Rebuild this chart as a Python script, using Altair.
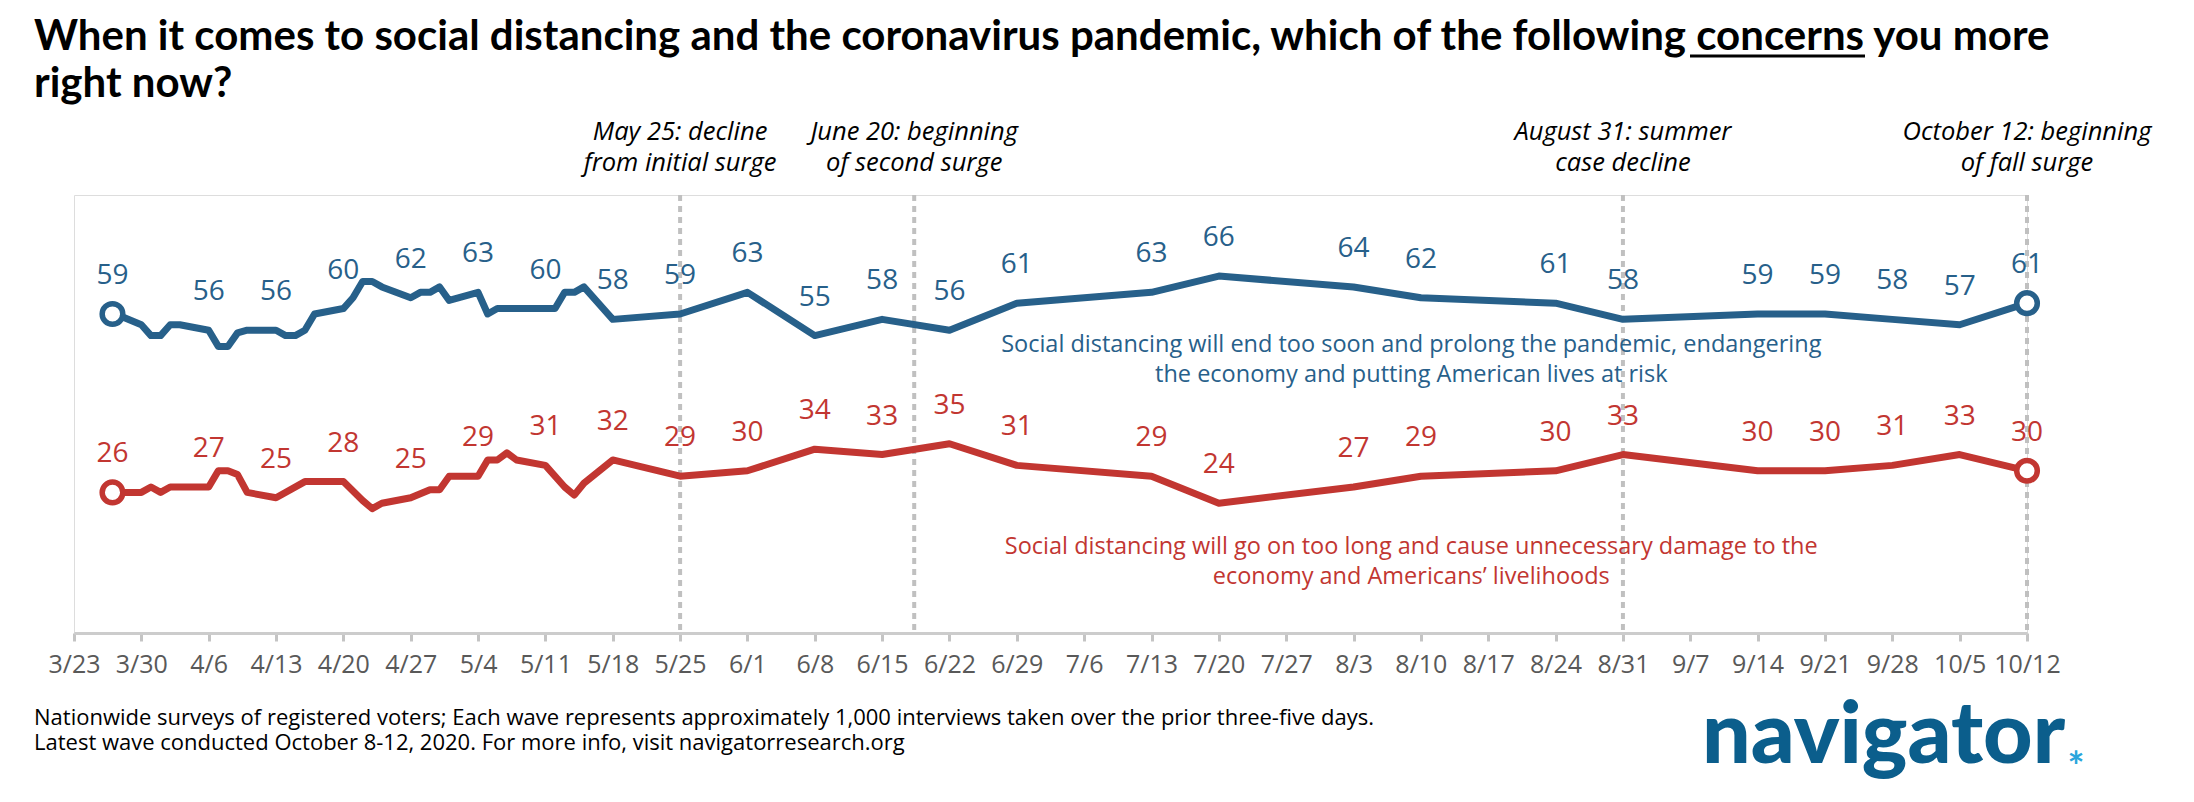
import altair as alt
import pandas as pd

# ---------------- data ----------------
blue_dates = ["3/27", "3/28", "3/30", "3/31", "4/1", "4/2", "4/3", "4/6", "4/7", "4/8",
              "4/9", "4/10", "4/13", "4/14", "4/15", "4/16", "4/17", "4/20", "4/21", "4/22",
              "4/23", "4/24", "4/27", "4/28", "4/29", "4/30", "5/1", "5/4", "5/5", "5/6",
              "5/11", "5/12", "5/13", "5/14", "5/15", "5/18",
              "5/25", "6/1", "6/8", "6/15", "6/22", "6/29", "7/13", "7/20", "8/3", "8/10",
              "8/24", "8/31", "9/14", "9/21", "9/28", "10/5", "10/12"]
blue_values = [59, 58.5, 57, 55, 55, 57, 57, 56, 53, 53,
               55.5, 56, 56, 55, 55, 56, 59, 60, 62, 65,
               65, 64, 62, 63, 63, 64, 61.5, 63, 59, 60,
               60, 60, 63, 63, 64, 58,
               59, 63, 55, 58, 56, 61, 63, 66, 64, 62,
               61, 58, 59, 59, 58, 57, 61]

red_dates = ["3/27", "3/30", "3/31", "4/1", "4/2", "4/6", "4/7", "4/8", "4/9", "4/10",
             "4/13", "4/16", "4/20", "4/22", "4/23", "4/24", "4/27", "4/29", "4/30", "5/1",
             "5/4", "5/5", "5/6", "5/7", "5/8", "5/11", "5/13", "5/14", "5/15", "5/18",
             "5/25", "6/1", "6/8", "6/15", "6/22", "6/29", "7/13", "7/20", "8/3", "8/10",
             "8/24", "8/31", "9/14", "9/21", "9/28", "10/5", "10/12"]
red_values = [26, 26, 27, 26, 27, 27, 30, 30, 29.3, 26,
              25, 28, 28, 24.5, 23, 24, 25, 26.5, 26.5, 29,
              29, 32, 32, 33.3, 32, 31, 27, 25.5, 27.7, 32,
              29, 30, 34, 33, 35, 31, 29, 24, 27, 29,
              30, 33, 30, 30, 31, 33, 30]

# dates that carry a value label
label_dates = ["3/27", "4/6", "4/13", "4/20", "4/27", "5/4", "5/11", "5/18",
               "5/25", "6/1", "6/8", "6/15", "6/22", "6/29", "7/13", "7/20", "8/3", "8/10",
               "8/24", "8/31", "9/14", "9/21", "9/28", "10/5", "10/12"]

series_names = ["Social distancing will end too soon and prolong the pandemic, endangering\nthe economy and putting American lives at risk",
                "Social distancing will go on too long and cause unnecessary damage to the\neconomy and Americans\u2019 livelihoods"]
series_keys = ["end_too_soon", "too_long"]
series_colors = ["#27608A", "#C23631"]
series_note_dates = ["8/9", "8/9"]
series_note_values = [53.3, 15.9]

tick_dates = ["3/23", "3/30", "4/6", "4/13", "4/20", "4/27", "5/4", "5/11", "5/18", "5/25",
              "6/1", "6/8", "6/15", "6/22", "6/29", "7/6", "7/13", "7/20", "7/27", "8/3",
              "8/10", "8/17", "8/24", "8/31", "9/7", "9/14", "9/21", "9/28", "10/5", "10/12"]

event_dates = ["5/25", "6/18 08:00", "8/31", "10/12"]
event_texts = ["May 25: decline\nfrom initial surge",
               "June 20: beginning\nof second surge",
               "August 31: summer\ncase decline",
               "October 12: beginning\nof fall surge"]

title_text = ("When it comes to social distancing and the coronavirus pandemic, which of the following "
              "concerns you more\nright now?")
footnote_text = ("Nationwide surveys of registered voters; Each wave represents approximately 1,000 interviews taken over the prior three-five days.\n"
                 "Latest wave conducted October 8-12, 2020. For more info, visit navigatorresearch.org")


def iso(md):
    parts = md.split(" ")
    m, d = parts[0].split("/")
    t = parts[1] if len(parts) > 1 else "00:00"
    return f"2020-{int(m):02d}-{int(d):02d}T{t}:00"


def dt(md):
    m, d = md.split("/")
    return alt.DateTime(year=2020, month=int(m), date=int(d))


rows = []
for key, dates, vals in [(series_keys[0], blue_dates, blue_values),
                         (series_keys[1], red_dates, red_values)]:
    for i, (d, v) in enumerate(zip(dates, vals)):
        rows.append({"date": iso(d), "value": v, "series": key,
                     "label": (str(int(round(v))) if d in label_dates else ""),
                     "endpoint": (i == 0 or i == len(dates) - 1)})
df = pd.DataFrame(rows)
lab_df = df[df["label"] != ""]
end_df = df[df["endpoint"]]

notes_df = pd.DataFrame({"date": [iso(d) for d in series_note_dates],
                         "value": series_note_values,
                         "series": series_keys,
                         "text": series_names})
events_df = pd.DataFrame({"date": [iso(d) for d in event_dates], "text": event_texts})

TFONT = "Lato"
FONT = "Open Sans"
color_scale = alt.Scale(domain=series_keys, range=series_colors)
x_scale = alt.Scale(domain=[dt("3/23"), dt("10/12")], nice=False)
y_scale = alt.Scale(domain=[0, 81], nice=False, zero=False)

x_enc = alt.X("date:T", scale=x_scale,
              axis=alt.Axis(values=[dt(d) for d in tick_dates], format="%-m/%-d",
                            title=None, grid=False, labelOverlap=False, labelFlush=False,
                            labelFont=FONT, labelFontSize=25, labelColor="#595959",
                            labelPadding=11, tickSize=8, tickWidth=3, tickColor="#C4C4C4",
                            domainColor="#CCCCCC", domainWidth=3, labelBound=False))
y_enc = alt.Y("value:Q", scale=y_scale, axis=None)

base = alt.Chart(df)

rules = alt.Chart(events_df).mark_rule(color="#C0C0C0", strokeWidth=4, strokeDash=[6, 5]).encode(
    x=alt.X("date:T", scale=x_scale))

event_text = alt.Chart(events_df).mark_text(
    font=FONT, fontSize=25.5, fontStyle="italic", color="#000000", align="center",
    baseline="middle", lineBreak="\n", lineHeight=31).encode(
    x=alt.X("date:T", scale=x_scale), y=alt.value(-63), text="text:N")

lines = base.mark_line(strokeWidth=7, strokeJoin="round", strokeCap="round").encode(
    x=x_enc, y=y_enc,
    color=alt.Color("series:N", scale=color_scale, legend=None),
    detail="series:N")

points = alt.Chart(end_df).mark_point(shape="circle", filled=True, fill="white", size=425,
                                      strokeWidth=5.5, opacity=1).encode(
    x=alt.X("date:T", scale=x_scale), y=alt.Y("value:Q", scale=y_scale),
    stroke=alt.Color("series:N", scale=color_scale, legend=None))

labels = alt.Chart(lab_df).mark_text(font=FONT, fontSize=28, baseline="middle", dy=-38).encode(
    x=alt.X("date:T", scale=x_scale), y=alt.Y("value:Q", scale=y_scale),
    text="label:N", color=alt.Color("series:N", scale=color_scale, legend=None))

notes = alt.Chart(notes_df).mark_text(font=FONT, fontSize=23.5, baseline="middle", align="center",
                                      lineBreak="\n", lineHeight=30).encode(
    x=alt.X("date:T", scale=x_scale), y=alt.Y("value:Q", scale=y_scale),
    text="text:N", color=alt.Color("series:N", scale=color_scale, legend=None))

title = alt.Chart(pd.DataFrame({"t": [title_text]})).mark_text(
    font=TFONT, fontSize=42, fontWeight="bold", color="#000000", align="left",
    baseline="alphabetic", lineBreak="\n", lineHeight=47).encode(
    x=alt.value(-40), y=alt.value(-145), text="t:N")

underline = alt.Chart(pd.DataFrame({"t": [0]})).mark_rule(color="#000000", strokeWidth=3).encode(
    x=alt.value(1616), x2=alt.value(1791), y=alt.value(-139))

foot = alt.Chart(pd.DataFrame({"t": [footnote_text]})).mark_text(
    font=FONT, fontSize=22, color="#000000", align="left",
    baseline="alphabetic", lineBreak="\n", lineHeight=25).encode(
    x=alt.value(-40), y=alt.value(530), text="t:N")

logo = alt.Chart(pd.DataFrame({"t": ["navigator"]})).mark_text(
    font=TFONT, fontSize=86, fontWeight=900, color="#0B5E8C", align="left",
    baseline="alphabetic").encode(x=alt.value(1628), y=alt.value(568), text="t:N")

star = alt.Chart(pd.DataFrame({"t": ["*"]})).mark_text(
    font=TFONT, fontSize=40, fontWeight="bold", color="#2AA5DC", align="center",
    baseline="alphabetic").encode(x=alt.value(2002), y=alt.value(586), text="t:N")

chart = alt.layer(rules, lines, points, labels, notes, event_text, title, underline, foot, logo, star).properties(
    width=1953, height=438,
    autosize=alt.AutoSizeParams(type="none"),
    padding={"left": 66, "top": 187, "right": 150, "bottom": 150},
).configure_view(stroke=None).configure(background="white")

chart.save("out.html", embed_options={"renderer": "svg", "actions": False})
